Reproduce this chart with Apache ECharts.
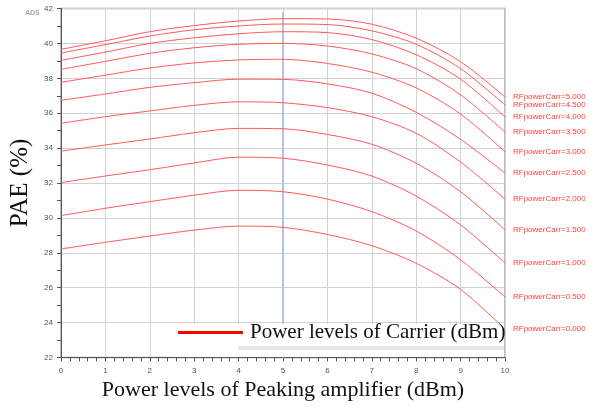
<!DOCTYPE html>
<html>
<head>
<meta charset="utf-8">
<script src="https://cdn.jsdelivr.net/npm/echarts@6/dist/echarts.min.js"></script>
<style>html,body{margin:0;padding:0;background:#fff}#chart{width:605px;height:412px}</style>
</head>
<body>
<div id="chart"></div>
<script>
const xValues = [0, 1, 2, 3, 4, 5, 6, 7, 8, 9, 10];
const carrierLevels = ['0.000', '0.500', '1.000', '1.500', '2.000', '2.500', '3.000', '3.500', '4.000', '4.500', '5.000'];
const pae_0_0 = [28.22, 28.6, 28.96, 29.3, 29.53, 29.46, 29.05, 28.41, 27.4, 25.9, 23.63];
const pae_0_5 = [30.13, 30.55, 30.93, 31.3, 31.58, 31.50, 31.08, 30.36, 29.25, 27.6, 25.47];
const pae_1_0 = [32.02, 32.4, 32.76, 33.15, 33.48, 33.42, 33.03, 32.40, 31.25, 29.6, 27.42];
const pae_1_5 = [33.82, 34.18, 34.52, 34.88, 35.13, 35.11, 34.78, 34.22, 33.13, 31.5, 29.31];
const pae_2_0 = [35.42, 35.8, 36.13, 36.45, 36.65, 36.60, 36.32, 35.80, 34.85, 33.2, 31.08];
const pae_2_5 = [36.74, 37.1, 37.48, 37.75, 37.95, 37.94, 37.68, 37.15, 36.05, 34.5, 32.57];
const pae_3_0 = [37.77, 38.18, 38.59, 38.88, 39.05, 39.09, 38.85, 38.35, 37.45, 35.95, 33.79];
const pae_3_5 = [38.51, 38.97, 39.43, 39.75, 39.95, 40.0, 39.85, 39.4, 38.55, 37.05, 34.92];
const pae_4_0 = [39.03, 39.5, 40.0, 40.32, 40.55, 40.67, 40.62, 40.22, 39.35, 37.95, 35.78];
const pae_4_5 = [39.45, 39.93, 40.42, 40.78, 41.0, 41.11, 41.08, 40.72, 39.95, 38.55, 36.47];
const pae_5_0 = [39.66, 40.15, 40.67, 41.02, 41.28, 41.42, 41.40, 41.1, 40.3, 38.95, 36.93];
const cursorX = [5, 5];
const cursorY = [22, 41.8];
const legendName = 'Power levels of Carrier (dBm)';

const allCurves = [pae_0_0, pae_0_5, pae_1_0, pae_1_5, pae_2_0, pae_2_5, pae_3_0, pae_3_5, pae_4_0, pae_4_5, pae_5_0];
const curveColor = '#ff5a5a';

const series = allCurves.map((vals, i) => ({
  type: 'line',
  name: legendName,
  data: vals.map((v, j) => [xValues[j], v]),
  smooth: 0.3,
  showSymbol: false,
  symbol: 'none',
  z: 2,
  color: curveColor,
  lineStyle: { color: curveColor, width: 1 },
  endLabel: {
    show: true,
    formatter: 'RFpowerCarr=' + carrierLevels[i],
    color: '#ff4040',
    fontSize: 8,
    fontFamily: 'Liberation Sans, Arial, sans-serif',
    distance: 8
  }
}));

series.push({
  type: 'line',
  name: 'cursor',
  data: cursorX.map((x, j) => [x, cursorY[j]]),
  showSymbol: false,
  symbol: 'none',
  z: 1,
  lineStyle: { color: '#b4c2e2', width: 2 }
});

const chart = echarts.init(document.getElementById('chart'), null, { renderer: 'canvas' });
chart.setOption({
  animation: false,
  backgroundColor: '#ffffff',
  grid: { left: 60, right: 100, top: 8.5, bottom: 54.5, show: true, borderColor: '#a8a8a8', borderWidth: 1.5, backgroundColor: 'transparent' },
  xAxis: {
    type: 'value', min: 0, max: 10, interval: 1,
    name: 'Power levels of Peaking amplifier (dBm)',
    nameLocation: 'middle', nameGap: 18,
    nameTextStyle: { fontFamily: 'Liberation Serif, Times New Roman, serif', fontSize: 22, color: '#111', verticalAlign: 'top' },
    axisLine: { show: true, onZero: false, lineStyle: { color: '#555', width: 1 } },
    axisTick: { show: true, inside: false, length: 4, lineStyle: { color: '#555' } },
    minorTick: { show: true, splitNumber: 5, length: 4, lineStyle: { color: '#555' } },
    axisLabel: { fontSize: 8, color: '#555', margin: 9, fontFamily: 'Liberation Sans, Arial, sans-serif' },
    splitLine: { show: true, lineStyle: { color: '#d2d2d2', width: 1 } }
  },
  yAxis: {
    type: 'value', min: 22, max: 42, interval: 2,
    name: 'PAE (%)',
    nameLocation: 'middle', nameGap: 28, nameRotate: 90,
    nameTextStyle: { fontFamily: 'Liberation Serif, Times New Roman, serif', fontSize: 25, color: '#111' },
    axisLine: { show: true, onZero: false, lineStyle: { color: '#555', width: 1 } },
    axisTick: { show: true, inside: false, length: 4, lineStyle: { color: '#555' } },
    minorTick: { show: true, splitNumber: 2, length: 4, lineStyle: { color: '#555' } },
    axisLabel: { fontSize: 8, color: '#555', margin: 8, fontFamily: 'Liberation Sans, Arial, sans-serif' },
    splitLine: { show: true, lineStyle: { color: '#d2d2d2', width: 1 } }
  },
  legend: {
    show: true,
    left: 178, top: 322,
    padding: 0,
    itemGap: 0,
    itemWidth: 65, itemHeight: 3,
    icon: 'rect',
    z: 5,
    data: [{ name: legendName, itemStyle: { color: '#ff0000' } }],
    textStyle: { fontFamily: 'Liberation Serif, Times New Roman, serif', fontSize: 21, color: '#111', padding: [0, 0, 0, 2] },
    selectedMode: false
  },
  graphic: [
    { type: 'rect', z: 3, shape: { x: 172, y: 324, width: 332, height: 33 }, style: { fill: '#ffffff' } },
    { type: 'rect', z: 3, shape: { x: 238, y: 346, width: 266, height: 4 }, style: { fill: '#e6e6e6' } },
    { type: 'text', z: 3, left: 25, top: 10, style: { text: 'ADS', fill: '#a8a8a8', fontSize: 7, fontWeight: 'bold', fontFamily: 'Liberation Sans, Arial, sans-serif' } }
  ],
  series: series
});
</script>
</body>
</html>
